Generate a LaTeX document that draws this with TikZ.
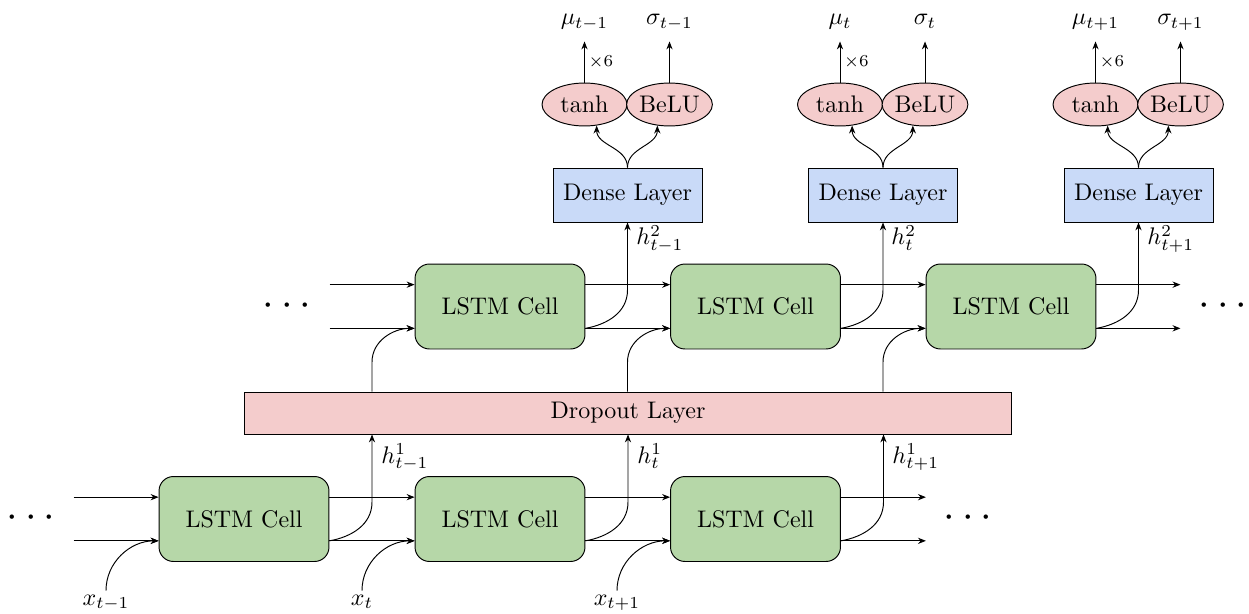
\documentclass[tikz,border=0pt]{standalone}
\usetikzlibrary{arrows.meta,shapes.geometric,calc}
\definecolor{cellgreen}{RGB}{182,215,168}
\definecolor{droppink}{RGB}{244,204,204}
\definecolor{denseblue}{RGB}{201,218,248}
\begin{document}
\begin{tikzpicture}[x=0.41667pt,y=-0.41667pt,
  lstm/.style={draw, fill=cellgreen, rounded corners=6pt, minimum width=70.8pt, minimum height=35.4pt, inner sep=0pt},
  dropbox/.style={draw, fill=droppink, minimum width=319.2pt, minimum height=17.5pt, inner sep=0pt},
  densebox/.style={draw, fill=denseblue, minimum width=62.1pt, minimum height=22.5pt, inner sep=0pt},
  act/.style={draw, ellipse, fill=droppink, minimum width=35.4pt, minimum height=17.9pt, inner sep=0pt},
  arr/.style={-{Stealth[length=3.3pt,width=2.6pt]}},
  dotsnode/.style={font=\LARGE, inner sep=0pt},
  lbl/.style={inner sep=0pt},
  outlbl/.style={anchor=base, inner xsep=0pt, inner ysep=4.67pt, text depth=2pt},
  inlbl/.style={anchor=base, inner sep=1.5pt}
]
\useasboundingbox (0,0) rectangle (1249,614);

% LSTM cells
\node[lstm] (T1) at (500,306.5) {LSTM Cell};
\node[lstm] (T2) at (755.5,306.5) {LSTM Cell};
\node[lstm] (T3) at (1011,306.5) {LSTM Cell};
\node[lstm] (B1) at (244,519) {LSTM Cell};
\node[lstm] (B2) at (500,519) {LSTM Cell};
\node[lstm] (B3) at (755.5,519) {LSTM Cell};

% Dropout
\node[dropbox] (D) at (628,413) {Dropout Layer};

% Dense layers
\node[densebox] (L1) at (627.5,195) {Dense Layer};
\node[densebox] (L2) at (883,195) {Dense Layer};
\node[densebox] (L3) at (1138.5,195) {Dense Layer};

% Activations
\node[act] (A1) at (584.5,104.5) {tanh};
\node[act] (S1) at (669.5,104.5) {BeLU};
\node[act] (A2) at (840,104.5) {tanh};
\node[act] (S2) at (925,104.5) {BeLU};
\node[act] (A3) at (1095.5,104.5) {tanh};
\node[act] (S3) at (1180.5,104.5) {BeLU};

% Output labels
\node[outlbl] (M1) at (584.5,25) {$\mu_{t-1}$};
\node[outlbl] (G1) at (669.5,25) {$\sigma_{t-1}$};
\node[outlbl] (M2) at (840,25) {$\mu_{t}$};
\node[outlbl] (G2) at (925,25) {$\sigma_{t}$};
\node[outlbl] (M3) at (1095.5,25) {$\mu_{t+1}$};
\node[outlbl] (G3) at (1180.5,25) {$\sigma_{t+1}$};

\foreach \i in {1,2,3}{
  \draw[arr] (A\i.north) -- node[right, font=\scriptsize, inner sep=1.5pt]{$\times 6$} (A\i.north |- M\i.south);
  \draw[arr] (S\i.north) -- (S\i.north |- G\i.south);
  \draw[arr] (L\i.north) to[out=90,in=-90] (A\i.-60);
  \draw[arr] (L\i.north) to[out=90,in=-90] (S\i.-120);
}

% dots
\node[dotsnode] (DTL) at (287,306) {$\cdots$};
\node[dotsnode] (DTR) at (1223,306) {$\cdots$};
\node[dotsnode] (DBL) at (31,518) {$\cdots$};
\node[dotsnode] (DBR) at (968,518) {$\cdots$};

% top row horizontal connectors
\coordinate (TLa) at ([xshift=-35.4pt,yshift=9.1pt]T1.west);
\coordinate (TLb) at ([xshift=-35.4pt,yshift=-9.1pt]T1.west);
\coordinate (TRa) at ([xshift=35pt,yshift=9.1pt]T3.east);
\coordinate (TRb) at ([xshift=35pt,yshift=-9.1pt]T3.east);
\draw[arr] (TLa) -- ([yshift=9.1pt]T1.west);
\draw[arr] (TLb) -- ([yshift=-9.1pt]T1.west);
\draw[arr] ([yshift=9.1pt]T1.east) -- ([yshift=9.1pt]T2.west);
\draw[arr] ([yshift=-9.1pt]T1.east) -- ([yshift=-9.1pt]T2.west);
\draw[arr] ([yshift=9.1pt]T2.east) -- ([yshift=9.1pt]T3.west);
\draw[arr] ([yshift=-9.1pt]T2.east) -- ([yshift=-9.1pt]T3.west);
\draw[arr] ([yshift=9.1pt]T3.east) -- (TRa);
\draw[arr] ([yshift=-9.1pt]T3.east) -- (TRb);

% bottom row horizontal connectors
\coordinate (BLa) at ([xshift=-35.4pt,yshift=9.1pt]B1.west);
\coordinate (BLb) at ([xshift=-35.4pt,yshift=-9.1pt]B1.west);
\coordinate (BRa) at ([xshift=35.4pt,yshift=9.1pt]B3.east);
\coordinate (BRb) at ([xshift=35.4pt,yshift=-9.1pt]B3.east);
\draw[arr] (BLa) -- ([yshift=9.1pt]B1.west);
\draw[arr] (BLb) -- ([yshift=-9.1pt]B1.west);
\draw[arr] ([yshift=9.1pt]B1.east) -- ([yshift=9.1pt]B2.west);
\draw[arr] ([yshift=-9.1pt]B1.east) -- ([yshift=-9.1pt]B2.west);
\draw[arr] ([yshift=9.1pt]B2.east) -- ([yshift=9.1pt]B3.west);
\draw[arr] ([yshift=-9.1pt]B2.east) -- ([yshift=-9.1pt]B3.west);
\draw[arr] ([yshift=9.1pt]B3.east) -- (BRa);
\draw[arr] ([yshift=-9.1pt]B3.east) -- (BRb);

% h^1 connectors (bottom cells -> dropout)
\coordinate (H1) at (372,502);
\coordinate (H2) at (628,502);
\coordinate (H3) at (883.5,502);
\draw[arr] ([yshift=-9.1pt]B1.east) to[out=10,in=-90] (H1) -- (H1 |- D.south);
\draw[arr] ([yshift=-9.1pt]B2.east) to[out=10,in=-90] (H2) -- (H2 |- D.south);
\draw[arr] ([yshift=-9.1pt]B3.east) to[out=10,in=-90] (H3) -- (H3 |- D.south);
\node[lbl, anchor=base west] (HL1) at (381,463) {$h^1_{t-1}$};
\node[lbl, anchor=base west] (HL2) at (637,463) {$h^1_{t}$};
\node[lbl, anchor=base west] (HL3) at (892,463) {$h^1_{t+1}$};

% dropout -> top cells
\coordinate (U1) at (372,362);
\coordinate (U2) at (627.5,362);
\coordinate (U3) at (883,362);
\draw[arr] (U1 |- D.north) -- (U1) to[out=90,in=180] ([yshift=-9.1pt]T1.west);
\draw[arr] (U2 |- D.north) -- (U2) to[out=90,in=180] ([yshift=-9.1pt]T2.west);
\draw[arr] (U3 |- D.north) -- (U3) to[out=90,in=180] ([yshift=-9.1pt]T3.west);

% h^2 connectors (top cells -> dense)
\coordinate (V1) at (627.5,290);
\coordinate (V2) at (883,290);
\coordinate (V3) at (1138.5,290);
\draw[arr] ([yshift=-9.1pt]T1.east) to[out=10,in=-90] (V1) -- (V1 |- L1.south);
\draw[arr] ([yshift=-9.1pt]T2.east) to[out=10,in=-90] (V2) -- (V2 |- L2.south);
\draw[arr] ([yshift=-9.1pt]T3.east) to[out=10,in=-90] (V3) -- (V3 |- L3.south);
\node[lbl, anchor=base west] (HH1) at (636,245) {$h^2_{t-1}$};
\node[lbl, anchor=base west] (HH2) at (891,245) {$h^2_{t}$};
\node[lbl, anchor=base west] (HH3) at (1147,245) {$h^2_{t+1}$};

% inputs
\node[inlbl] (X1) at (106,605) {$x_{t-1}$};
\node[inlbl] (X2) at (362,605) {$x_{t}$};
\node[inlbl] (X3) at (617,605) {$x_{t+1}$};
\draw[arr] (X1.north) to[out=90,in=180] ([yshift=-9.1pt]B1.west);
\draw[arr] (X2.north) to[out=90,in=180] ([yshift=-9.1pt]B2.west);
\draw[arr] (X3.north) to[out=90,in=180] ([yshift=-9.1pt]B3.west);
\end{tikzpicture}
\end{document}
